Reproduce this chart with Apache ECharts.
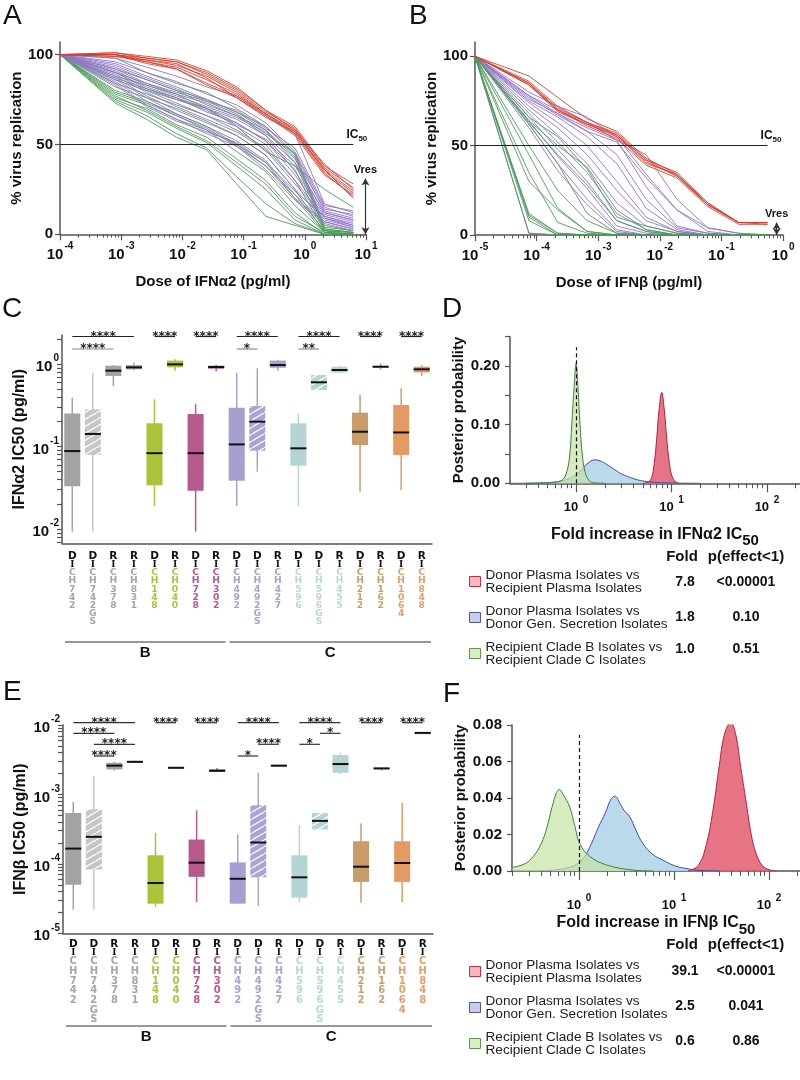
<!DOCTYPE html>
<html><head><meta charset="utf-8">
<script src="https://cdn.jsdelivr.net/npm/echarts@6/dist/echarts.min.js"></script>
<style>html,body{margin:0;padding:0;background:#fff}#c{width:800px;height:1080px}</style>
</head><body><div id="c"></div>
<script>
// ================= DATA =================
// Panel A: IFN-alpha2 dose-response (pg/ml) vs % virus replication
const dosesA = [0.0001, 0.0008, 0.0026, 0.008, 0.025, 0.077, 0.23, 0.69, 2.1, 6.2];
const redA = [
  [100, 101, 99, 97, 91, 82, 69, 60, 38, 28],
  [100, 100, 98, 96, 89, 80, 68, 59, 37, 26],
  [100, 100, 97, 94, 88, 79, 67, 58, 36, 24],
  [100, 99, 96, 93, 86, 78, 67, 57, 35, 23],
  [100, 100, 95, 92, 84, 77, 66, 56, 34, 21],
  [100, 99, 97, 95, 87, 76, 65, 57, 36, 20],
  [100, 101, 98, 96, 90, 81, 69, 58, 39, 25],
  [100, 100, 96, 92, 83, 76, 66, 55, 33, 22]
];
const purpleA = [
  [100, 98, 93, 88, 82, 77, 67, 56, 17, 12],
  [100, 96, 90, 85, 78, 72, 62, 46, 15, 10],
  [100, 95, 88, 82, 75, 68, 60, 45, 13, 9],
  [100, 93, 86, 80, 72, 66, 58, 40, 12, 8],
  [100, 92, 84, 78, 70, 64, 55, 35, 11, 7],
  [100, 90, 82, 76, 68, 62, 52, 33, 10, 6],
  [100, 89, 80, 73, 66, 60, 50, 30, 9, 5],
  [100, 88, 79, 71, 64, 57, 47, 28, 9, 4],
  [100, 87, 77, 69, 62, 55, 44, 25, 8, 4],
  [100, 86, 76, 67, 60, 52, 41, 22, 7, 3],
  [100, 85, 74, 66, 58, 50, 38, 20, 7, 3],
  [100, 84, 72, 64, 56, 49, 36, 19, 6, 2],
  [100, 91, 83, 77, 71, 65, 57, 42, 14, 11],
  [100, 94, 87, 81, 74, 69, 59, 48, 16, 13],
  [100, 83, 71, 63, 57, 51, 40, 24, 10, 5],
  [100, 90, 81, 75, 69, 61, 53, 38, 12, 8]
];
const greenA = [
  [100, 98, 90, 84, 79, 70, 60, 44, 4, 2],
  [100, 92, 86, 80, 75, 68, 58, 43, 3, 1],
  [100, 88, 83, 78, 73, 66, 55, 40, 3, 1],
  [100, 86, 80, 75, 70, 62, 52, 36, 2, 1],
  [100, 84, 78, 72, 66, 58, 48, 30, 2, 0],
  [100, 82, 76, 70, 63, 55, 44, 25, 1, 0],
  [100, 80, 74, 67, 60, 50, 40, 20, 1, 0],
  [100, 78, 72, 64, 58, 46, 35, 16, 1, 0],
  [100, 76, 70, 61, 54, 42, 30, 12, 0, 0],
  [100, 75, 68, 59, 51, 38, 25, 8, 0, 0],
  [100, 74, 66, 56, 48, 32, 17, 6, 0, 0],
  [100, 73, 64, 54, 47, 28, 10, 5, 0, 0],
  [100, 87, 81, 76, 70, 60, 46, 38, 25, 15],
  [100, 90, 84, 79, 74, 67, 56, 45, 5, 2],
  [100, 79, 73, 66, 59, 49, 38, 22, 2, 1],
  [100, 77, 69, 60, 52, 40, 28, 10, 1, 0]
];
// Panel B: IFN-beta dose-response
const dosesB = [0.00001, 0.000075, 0.00022, 0.00066, 0.002, 0.006, 0.019, 0.06, 0.19, 0.56];
const redB = [
  [100, 89, 77, 65, 58, 43, 34, 18, 7, 7],
  [100, 85, 70, 62, 56, 42, 33, 17, 7, 7],
  [100, 84, 69, 62, 55, 41, 33, 17, 7, 6],
  [100, 85, 71, 63, 56, 40, 34, 17, 7, 7],
  [100, 84, 70, 61, 54, 39, 32, 16, 6, 6],
  [100, 86, 72, 63, 57, 42, 35, 18, 7, 7]
];
const purpleB = [
  [100, 80, 72, 66, 55, 34, 14, 4, 1, 0],
  [100, 78, 70, 63, 53, 27, 5, 1, 0, 0],
  [100, 76, 68, 58, 45, 20, 4, 1, 0, 0],
  [100, 75, 66, 55, 40, 15, 3, 0, 0, 0],
  [100, 74, 63, 50, 30, 10, 2, 0, 0, 0],
  [100, 72, 60, 45, 25, 8, 2, 0, 0, 0],
  [100, 70, 56, 40, 18, 5, 1, 0, 0, 0],
  [100, 68, 52, 35, 12, 3, 0, 0, 0, 0],
  [100, 66, 48, 30, 8, 2, 0, 0, 0, 0],
  [100, 64, 44, 26, 5, 1, 0, 0, 0, 0],
  [100, 62, 40, 20, 3, 0, 0, 0, 0, 0],
  [100, 60, 36, 17, 2, 0, 0, 0, 0, 0],
  [100, 1, 0, 0, 0, 0, 0, 0, 0, 0],
  [100, 78, 68, 60, 53, 45, 20, 4, 1, 0],
  [100, 77, 67, 58, 52, 32, 14, 2, 0, 0]
];
const greenB = [
  [100, 12, 1, 0, 0, 0, 0, 0, 0, 0],
  [100, 10, 0, 0, 0, 0, 0, 0, 0, 0],
  [100, 8, 0, 0, 0, 0, 0, 0, 0, 0],
  [100, 11, 1, 0, 0, 0, 0, 0, 0, 0],
  [100, 1, 0, 0, 0, 0, 0, 0, 0, 0],
  [100, 30, 14, 2, 0, 0, 0, 0, 0, 0],
  [100, 35, 7, 1, 0, 0, 0, 0, 0, 0],
  [100, 45, 15, 2, 0, 0, 0, 0, 0, 0],
  [100, 62, 40, 12, 1, 0, 0, 0, 0, 0],
  [100, 64, 50, 38, 14, 3, 0, 0, 0, 0],
  [100, 66, 55, 37, 10, 5, 1, 0, 0, 0],
  [100, 63, 45, 28, 8, 2, 0, 0, 0, 0],
  [100, 50, 25, 8, 1, 0, 0, 0, 0, 0]
];
const ic50Level = 50;
const vresA = {dose: 9.8, top: 31};
const vresB = {dose: 0.79, top: 7};

// Panels C / E: isolates
const isolates = ['CH742','CH742GS','CH378','CH831','CH148','CH040','CH728','CH302','CH492','CH492GS','CH427','CH596','CH596GS','CH455','CH212','CH162','CH1064','CH848'];
const roles = ['D','D','R','R','D','R','D','R','D','D','R','D','D','R','D','R','D','R'];
const clades = [{name:'B', from:0, to:7}, {name:'C', from:8, to:17}];
// [min, q1, median, q3, max]
const ic50Alpha = [
  [0.0093, 0.033, 0.088, 0.252, 0.39],
  [0.0093, 0.079, 0.142, 0.282, 0.785],
  [0.54, 0.716, 0.83, 0.953, 0.97],
  [0.845, 0.862, 0.91, 0.97, 1.04],
  [0.019, 0.034, 0.083, 0.191, 0.373],
  [0.83, 0.91, 0.99, 1.1, 1.14],
  [0.0093, 0.029, 0.083, 0.248, 0.325],
  [0.823, 0.877, 0.92, 0.953, 0.97],
  [0.019, 0.0385, 0.106, 0.295, 0.785],
  [0.0495, 0.089, 0.2, 0.31, 0.887],
  [0.83, 0.90, 0.97, 1.1, 1.12],
  [0.019, 0.0585, 0.095, 0.191, 0.252],
  [0.484, 0.484, 0.6, 0.736, 0.736],
  [0.77, 0.785, 0.846, 0.927, 0.946],
  [0.0283, 0.104, 0.151, 0.257, 0.42],
  [0.85, 0.91, 0.927, 0.94, 1.02],
  [0.0297, 0.079, 0.148, 0.318, 0.507],
  [0.716, 0.79, 0.862, 0.927, 0.97]
];
const ic50Beta = [
  [2.2e-5, 5.0e-5, 1.66e-4, 5.4e-4, 7.8e-4],
  [2.2e-5, 8.3e-5, 2.45e-4, 6.1e-4, 1.84e-3],
  [2.2e-3, 2.29e-3, 2.6e-3, 2.86e-3, 2.95e-3],
  [2.9e-3, 2.92e-3, 2.95e-3, 3.02e-3, 3.05e-3],
  [2.4e-5, 2.67e-5, 5.3e-5, 1.33e-4, 2.8e-4],
  [2.35e-3, 2.38e-3, 2.42e-3, 2.48e-3, 2.5e-3],
  [2.8e-5, 6.5e-5, 1.04e-4, 2.24e-4, 5.9e-4],
  [2.1e-3, 2.13e-3, 2.19e-3, 2.3e-3, 2.4e-3],
  [2.67e-5, 2.67e-5, 6.1e-5, 1.05e-4, 2.65e-4],
  [2.5e-5, 6.4e-5, 2.03e-4, 7.0e-4, 2.05e-3],
  [2.55e-3, 2.57e-3, 2.6e-3, 2.63e-3, 2.65e-3],
  [2.8e-5, 3.26e-5, 6.4e-5, 1.33e-4, 3.6e-4],
  [3.13e-4, 3.13e-4, 4.16e-4, 5.4e-4, 5.4e-4],
  [1.96e-3, 2.05e-3, 2.74e-3, 3.7e-3, 3.98e-3],
  [2.75e-5, 5.5e-5, 9.1e-5, 2.12e-4, 3.8e-4],
  [2.2e-3, 2.33e-3, 2.37e-3, 2.42e-3, 2.45e-3],
  [2.8e-5, 5.5e-5, 1.03e-4, 2.12e-4, 7.6e-4],
  [7.6e-3, 7.65e-3, 7.7e-3, 7.75e-3, 7.8e-3]
];
// significance: [fromIdx, toIdx, label, level]
const sigAlpha = [[0,3,'****',0],[0,2,'****',1],[4,5,'****',0],[6,7,'****',0],[8,10,'****',0],[8,9,'*',1],[11,13,'****',0],[11,12,'**',1],[14,15,'****',0],[16,17,'****',0]];
const sigBeta = [[0,3,'****',0],[0,2,'****',1],[1,3,'****',2],[1,2,'****',3],[4,5,'****',0],[6,7,'****',0],[8,10,'****',0],[9,10,'****',2],[8,9,'*',3],[11,13,'****',0],[12,13,'*',1],[11,12,'*',2],[14,15,'****',0],[16,17,'****',0]];

// Panels D / F: posterior densities [fold, probability]
const compNames = ['Donor Plasma Isolates vs\nRecipient Plasma Isolates','Donor Plasma Isolates vs\nDonor Gen. Secretion Isolates','Recipient Clade B Isolates vs\nRecipient Clade C Isolates'];
const foldAlpha = ['7.8','1.8','1.0'];
const pAlpha = ['<0.00001','0.10','0.51'];
const foldBeta = ['39.1','2.5','0.6'];
const pBeta = ['<0.00001','0.041','0.86'];
const densRedD = [[5,0],[5.7,0.002],[6.2,0.01],[6.6,0.035],[7.0,0.077],[7.4,0.125],[7.9,0.155],[8.4,0.125],[8.9,0.077],[9.4,0.04],[10,0.015],[10.9,0.003],[12,0]];
const densBlueD = [[0.3,0],[0.5,0.001],[0.7,0.004],[0.9,0.01],[1.1,0.02],[1.3,0.033],[1.58,0.04],[1.8,0.038],[2.1,0.032],[2.5,0.024],[3,0.016],[4,0.008],[5,0.004],[7,0.0015],[10,0.0005],[20,0]];
const densGreenD = [[0.2,0],[0.4,0.0005],[0.6,0.002],[0.72,0.006],[0.8,0.02],[0.86,0.05],[0.9,0.1],[0.95,0.16],[1.0,0.205],[1.05,0.16],[1.1,0.1],[1.16,0.05],[1.24,0.02],[1.35,0.006],[1.5,0.001],[2,0]];
const densRedF = [[14,0],[18,0.003],[22,0.015],[26,0.035],[30,0.058],[34,0.075],[39.5,0.0813],[45,0.074],[50,0.058],[57,0.039],[65,0.02],[73,0.0097],[85,0.003],[100,0.0007],[120,0]];
const densBlueF = [[0.4,0],[0.55,0.0005],[0.8,0.002],[0.96,0.004],[1.15,0.008],[1.35,0.015],[1.6,0.024],[1.9,0.032],[2.15,0.039],[2.39,0.041],[2.7,0.037],[3.0,0.033],[3.4,0.03],[4.0,0.022],[4.7,0.015],[6,0.009],[7.6,0.006],[10,0.003],[13,0.0015],[20,0.0002],[30,0]];
const densGreenF = [[0.2,0.002],[0.27,0.004],[0.33,0.008],[0.4,0.015],[0.46,0.024],[0.52,0.035],[0.58,0.043],[0.62,0.0447],[0.68,0.042],[0.8,0.035],[0.9,0.025],[1.02,0.015],[1.3,0.008],[1.95,0.0033],[3.7,0.0005],[6,0]];
const nullFold = 1;
const dashTopD = 0.232, dashTopF = 0.0745;

// tick label values
const decA = [1e-4,1e-3,1e-2,1e-1,1,10];
const decB = [1e-5,1e-4,1e-3,1e-2,1e-1,1];
const decC = [0.01,0.1,1];
const decE = [1e-5,1e-4,1e-3,1e-2];
const decDF = [1,10,100];

// ================= STYLE =================
const FONT = 'Liberation Sans';
const AX = '#555';
const groupColors = ['#a6a6a6','#aac43c','#b9588e','#a6a3d3','#b8d8d7','#c99e6c','#e79e67'];
const catGroup = [0,0,0,0,1,1,2,2,3,3,3,4,4,4,5,5,6,6];
const boxFill = ['#a3a3a3','#c6c6c6','#a3a3a3','#a3a3a3','#aac43a','#aac43a','#b65a8e','#b65a8e','#a4a1d0','#a8a5d6','#a4a1d0','#b4d5d4','#b4d5d4','#b4d5d4','#c79c69','#c79c69','#e39b63','#e39b63'];
const hatched = [0,1,0,0,0,0,0,0,0,1,0,0,1,0,0,0,0,0];

function minorTicks(min, max) {
  const out = [];
  for (let e = Math.floor(Math.log10(min)); e <= Math.ceil(Math.log10(max)); e++) {
    for (let m = 1; m <= 9; m++) {
      const v = m * Math.pow(10, e);
      if (v >= min * 0.9999 && v <= max * 1.0001) out.push(v);
    }
  }
  return out;
}
function supRich(size, ssize) {
  return {
    b: {fontSize: size, fontWeight: 'bold', fontFamily: FONT, color: '#111', lineHeight: size + 6, verticalAlign: 'bottom'},
    s: {fontSize: ssize, fontWeight: 'bold', fontFamily: FONT, color: '#111', lineHeight: ssize + 2, verticalAlign: 'top', padding: [0, 0, 0, 1]}
  };
}
const pow10 = v => '{b|10}{s|' + Math.round(Math.log10(v)) + '}';
const pow10sp = v => '{b|10 }{s|' + Math.round(Math.log10(v)) + '}';

function hatchPattern(bg) {
  const c = document.createElement('canvas');
  c.width = 12; c.height = 7;
  const g = c.getContext('2d');
  g.fillStyle = bg; g.fillRect(0, 0, 12, 7);
  g.strokeStyle = 'rgba(255,255,255,0.95)'; g.lineWidth = 1.3;
  for (const dx of [-12, 0, 12]) { g.beginPath(); g.moveTo(dx, 7); g.lineTo(dx + 12, 0); g.stroke(); }
  return {image: c, repeat: 'repeat'};
}
const fills = boxFill.map((c, i) => hatched[i] ? hatchPattern(c) : c);

function boxRender(params, api) {
  const i = api.value(0);
  const pMin = api.coord([i, api.value(1)]);
  const pQ1 = api.coord([i, api.value(2)]);
  const pMed = api.coord([i, api.value(3)]);
  const pQ3 = api.coord([i, api.value(4)]);
  const pMax = api.coord([i, api.value(5)]);
  const w = api.size([1, 0])[0] * 0.78;
  const x = pMed[0];
  const col = boxFill[i];
  return {type: 'group', children: [
    {type: 'line', shape: {x1: x, y1: pMax[1], x2: x, y2: pMin[1]}, style: {stroke: col, lineWidth: 1.5}},
    {type: 'rect', shape: {x: x - w / 2, y: pQ3[1], width: w, height: Math.max(pQ1[1] - pQ3[1], 1.5)}, style: {fill: fills[i]}},
    {type: 'line', shape: {x1: x - w / 2, y1: pMed[1], x2: x + w / 2, y2: pMed[1]}, style: {stroke: '#111', lineWidth: 2}}
  ]};
}

function catRich(step, size) {
  const r = {
    dr: {fontSize: 10.5, fontWeight: 'bold', fontFamily: 'DejaVu Sans', color: '#111', lineHeight: 9},
    bar: {fontSize: 9, fontWeight: 'bold', fontFamily: 'DejaVu Serif', color: '#111', lineHeight: 8.5}
  };
  groupColors.forEach((c, k) => { r['g' + k] = {fontSize: size, fontWeight: 'bold', fontFamily: 'DejaVu Sans', color: c, lineHeight: step}; });
  return r;
}
function catLabel(val, idx) {
  let s = '{dr|' + roles[idx] + '}\n{bar|I}';
  for (const ch of val) s += '\n{g' + catGroup[idx] + '|' + ch + '}';
  return s;
}

const axisNameStyle = {fontSize: 15, fontWeight: 'bold', fontFamily: FONT, color: '#111'};
const tickLabelStyle = {fontSize: 15, fontWeight: 'bold', fontFamily: FONT, color: '#111'};

function logX(grid, min, max, dec, name, gap, fmt, rich, tickLen, margin) {
  return [
    {type: 'log', gridIndex: grid, min, max, position: 'bottom', name, nameLocation: 'middle', nameGap: gap,
     nameTextStyle: axisNameStyle,
     axisLine: {onZero: false, lineStyle: {color: AX, width: 1.5}},
     axisTick: {customValues: dec, length: tickLen, lineStyle: {color: AX, width: 1.2}},
     axisLabel: {customValues: dec, formatter: fmt, rich, margin},
     splitLine: {show: false}, minorTick: {show: false}},
    {type: 'log', gridIndex: grid, min, max, position: 'bottom',
     axisLine: {show: false}, axisLabel: {show: false}, splitLine: {show: false},
     axisTick: {customValues: minorTicks(min, max).filter(v => !dec.some(d => Math.abs(d - v) / d < 1e-6)), length: tickLen * 0.55, lineStyle: {color: AX, width: 1}}}
  ];
}

const grids = [
  {left: 60, top: 42, width: 306, height: 192.3},
  {left: 475, top: 42, width: 308, height: 193},
  {left: 62, top: 335, width: 370, height: 208.3},
  {left: 510, top: 336.7, width: 290, height: 146.6},
  {left: 63, top: 725, width: 370, height: 208.3},
  {left: 512, top: 725, width: 288, height: 146}
].map(g => Object.assign({outerBoundsMode: 'none', containLabel: false}, g));

const yMinC = 0.00671, yMaxC = 2.246, yMinE = 1e-5, yMaxE = 1e-2;
const dMin = 0.203, dMax = 222, fMin = 0.197, fMax = 212;

const xAxes = [].concat(
  logX(0, 1e-4, 10, decA, 'Dose of IFNα2 (pg/ml)', 40, pow10, supRich(15, 10), 6, 7),
  logX(1, 1e-5, 1, decB, 'Dose of IFNβ (pg/ml)', 40, pow10, supRich(15, 10), 6, 7),
  [{type: 'category', gridIndex: 2, data: isolates, axisTick: {show: false},
    axisLine: {lineStyle: {color: AX, width: 1.5}},
    axisLabel: {interval: 0, formatter: catLabel, rich: catRich(8.2, 9.2), margin: 8}}],
  logX(3, dMin, dMax, decDF, '{a|Fold increase in IFNα2 IC}{s|50}', 43, pow10sp, supRich(13, 10), 9, 12),
  [{type: 'category', gridIndex: 4, data: isolates, axisTick: {show: false},
    axisLine: {lineStyle: {color: AX, width: 1.5}},
    axisLabel: {interval: 0, formatter: catLabel, rich: catRich(9.7, 10), margin: 6}}],
  logX(5, fMin, fMax, decDF, '{a|Fold increase in IFNβ IC}{s|50}', 44, pow10sp, supRich(13, 10), 9, 22)
);
const nameRich = {
  a: {fontSize: 16, fontWeight: 'bold', fontFamily: FONT, color: '#111', lineHeight: 22, verticalAlign: 'top'},
  s: {fontSize: 15, fontWeight: 'bold', fontFamily: FONT, color: '#111', lineHeight: 18, verticalAlign: 'bottom'}
};
xAxes[5].nameTextStyle = Object.assign({}, axisNameStyle, {rich: nameRich});
xAxes[8].nameTextStyle = Object.assign({}, axisNameStyle, {rich: nameRich});

function valY(grid, max, labels, ticks, name, gap, fmt, margin) {
  return {type: 'value', gridIndex: grid, min: 0, max, name, nameLocation: 'middle', nameGap: gap,
    nameTextStyle: axisNameStyle,
    axisLine: {show: true, onZero: false, lineStyle: {color: AX, width: 1.5}},
    axisTick: {show: true, customValues: ticks, length: 5, lineStyle: {color: AX, width: 1.2}},
    axisLabel: Object.assign({customValues: labels, formatter: fmt, margin}, tickLabelStyle),
    splitLine: {show: false}};
}
function logY(grid, min, max, dec, name, gap) {
  return {type: 'log', gridIndex: grid, min, max, name, nameLocation: 'middle', nameGap: gap,
    nameTextStyle: Object.assign({}, axisNameStyle, {fontSize: 16}),
    axisLine: {show: true, lineStyle: {color: AX, width: 1.5}},
    axisTick: {show: true, customValues: minorTicks(min, max), length: 5, lineStyle: {color: AX, width: 1.2}},
    axisLabel: {customValues: dec, formatter: pow10, rich: supRich(15, 10), margin: 3},
    splitLine: {show: false}, minorTick: {show: false}};
}
const yAxes = [
  valY(0, 107, [0, 50, 100], [0, 50, 100], '% virus replication', 36, v => String(v), 7),
  valY(1, 108, [0, 50, 100], [0, 50, 100], '% virus replication', 36, v => String(v), 7),
  logY(2, yMinC, yMaxC, decC, 'IFNα2 IC50 (pg/ml)', 34),
  valY(3, 0.25, [0, 0.1, 0.2], [0, 0.05, 0.1, 0.15, 0.2, 0.25], 'Posterior probability', 44, v => v.toFixed(2), 10),
  logY(4, yMinE, yMaxE, decE, 'IFNβ IC50 (pg/ml)', 34),
  valY(5, 0.08, [0, 0.02, 0.04, 0.06, 0.08], [0, 0.02, 0.04, 0.06, 0.08], 'Posterior probability', 44, v => v.toFixed(2), 10)
];

const COL_RED = '#d6402f', COL_PUR = '#9274c8', COL_GRN = '#4e9c5a';
function curveSeries(curves, doses, color, xi, yi, z) {
  return curves.map(v => ({type: 'line', xAxisIndex: xi, yAxisIndex: yi, z, silent: true, symbol: 'none',
    data: doses.map((d, k) => [d, v[k]]), lineStyle: {color, width: 0.9}}));
}
const icRich = {a: {fontSize: 12, fontWeight: 'bold', fontFamily: FONT, color: '#111', lineHeight: 14, verticalAlign: 'top'},
                b: {fontSize: 8, fontWeight: 'bold', fontFamily: FONT, color: '#111', lineHeight: 8, verticalAlign: 'bottom'}};
function icLine(doses) {
  return {silent: true, symbol: 'none', animation: false,
    lineStyle: {color: '#222', width: 1.2, type: 'solid'},
    label: {show: true, position: 'insideEndTop', formatter: '{a|IC}{b|50}', rich: icRich, distance: [-14, 2]},
    data: [[{coord: [doses[0], ic50Level]}, {coord: [doses[doses.length - 1], ic50Level]}]]};
}
function vresLine(v) {
  return {silent: true, symbol: ['arrow', 'arrow'], symbolSize: [6, 7], animation: false,
    lineStyle: {color: '#333', width: 1.2, type: 'solid'},
    label: {show: true, position: 'end', formatter: 'Vres', fontSize: 11, fontWeight: 'bold', fontFamily: FONT, color: '#111', distance: 3},
    data: [[{coord: [v.dose, 0]}, {coord: [v.dose, v.top]}]]};
}

const seriesA = [].concat(curveSeries(greenA, dosesA, COL_GRN, 0, 0, 2), curveSeries(purpleA, dosesA, COL_PUR, 0, 0, 3), curveSeries(redA, dosesA, COL_RED, 0, 0, 4));
seriesA[seriesA.length - 1].markLine = icLine(dosesA);
seriesA[seriesA.length - 2].markLine = vresLine(vresA);
const seriesB = [].concat(curveSeries(purpleB, dosesB, COL_PUR, 2, 1, 2), curveSeries(greenB, dosesB, COL_GRN, 2, 1, 3), curveSeries(redB, dosesB, COL_RED, 2, 1, 4));
seriesB[seriesB.length - 1].markLine = icLine(dosesB);
seriesB[seriesB.length - 2].markLine = vresLine(vresB);

const boxSeries = (xi, yi, stats) => ({type: 'custom', xAxisIndex: xi, yAxisIndex: yi, silent: true, clip: false,
  renderItem: boxRender, encode: {x: 0, y: [1, 2, 3, 4, 5]},
  data: stats.map((s, i) => [i].concat(s))});

const densStyle = [
  {name: compNames[0], area: 'rgba(226,92,112,0.85)', line: '#b3213b'},
  {name: compNames[1], area: 'rgba(178,214,234,0.9)', line: '#3d4f9e'},
  {name: compNames[2], area: 'rgba(196,226,164,0.7)', line: '#3f7f3f'}
];
function densSeries(xi, yi, red, blue, green, dashTop) {
  const mk = (k, data, z) => ({type: 'line', name: densStyle[k].name, xAxisIndex: xi, yAxisIndex: yi, z, silent: true,
    smooth: 0.4, symbol: 'none', data, lineStyle: {color: densStyle[k].line, width: 1}, areaStyle: {color: densStyle[k].area, opacity: 1},
    itemStyle: {color: densStyle[k].line}});
  const g = mk(2, green, 4);
  g.markLine = {silent: true, symbol: 'none', animation: false, label: {show: false},
    lineStyle: {color: '#111', width: 1.2, type: [4, 3]},
    data: [[{coord: [nullFold, 0]}, {coord: [nullFold, dashTop]}]]};
  return [mk(1, blue, 3), g, mk(0, red, 3)];
}

const legendItems = [
  {fill: '#f5b9c1', border: '#c8303f'},
  {fill: '#c9cdea', border: '#4a5aa8'},
  {fill: '#d9ecc6', border: '#5a9a4a'}
];
function legend(top) {
  return {orient: 'vertical', left: 469, top, padding: 0, itemWidth: 11, itemHeight: 10, itemGap: 9, icon: 'rect',
    selectedMode: false,
    textStyle: {fontSize: 13.6, fontFamily: FONT, color: '#222', lineHeight: 13},
    data: compNames.map((n, k) => ({name: n, itemStyle: {color: legendItems[k].fill, borderColor: legendItems[k].border, borderWidth: 1}}))};
}

const option = {
  animation: false,
  backgroundColor: '#fff',
  textStyle: {fontFamily: FONT},
  grid: grids,
  xAxis: xAxes,
  yAxis: yAxes,
  legend: [legend(568), legend(958)],
  series: [].concat(seriesA, seriesB,
    [boxSeries(4, 2, ic50Alpha)],
    densSeries(5, 3, densRedD, densBlueD, densGreenD, dashTopD),
    [boxSeries(7, 4, ic50Beta)],
    densSeries(8, 5, densRedF, densBlueF, densGreenF, dashTopF))
};

const chart = echarts.init(document.getElementById('c'), null, {renderer: 'canvas'});
chart.setOption(option);

// ---------- annotations positioned through the axes ----------
const gfx = [];
function txt(text, x, y, font, align, valign, fill) {
  return {type: 'text', silent: true, style: {text, x, y, font, fill: fill || '#111', align, verticalAlign: valign, textAlign: align, textVerticalAlign: valign}};
}
function addSig(list, xi, yi, yTop, rows, rowColors) {
  const top = chart.convertToPixel({yAxisIndex: yi}, yTop);
  list.forEach(([a, b, label, lvl]) => {
    const x1 = chart.convertToPixel({xAxisIndex: xi}, a);
    const x2 = chart.convertToPixel({xAxisIndex: xi}, b);
    const y = top + rows[lvl];
    gfx.push({type: 'line', silent: true, shape: {x1, y1: y, x2, y2: y}, style: {stroke: rowColors[lvl], lineWidth: 1.2}});
    gfx.push(txt(label, (x1 + x2) / 2, y + 6, 'bold 12px DejaVu Sans', 'center', 'bottom', '#222'));
  });
}
addSig(sigAlpha, 4, 2, yMaxC, [1.5, 14], ['#222', '#8a8a8a']);
addSig(sigBeta, 7, 4, yMaxE, [-2.3, 8.3, 19.3, 31], ['#333', '#333', '#333', '#333']);

function addClades(xi, yi, yMin, lineOff) {
  const base = chart.convertToPixel({yAxisIndex: yi}, yMin);
  const c0 = chart.convertToPixel({xAxisIndex: xi}, 0), c1 = chart.convertToPixel({xAxisIndex: xi}, 1);
  const bw = c1 - c0;
  clades.forEach(cl => {
    const xa = chart.convertToPixel({xAxisIndex: xi}, cl.from) - bw / 2 + 3;
    const xb = chart.convertToPixel({xAxisIndex: xi}, cl.to) + bw / 2 - 1;
    const y = base + lineOff;
    gfx.push({type: 'line', silent: true, shape: {x1: xa, y1: y, x2: xb, y2: y}, style: {stroke: '#333', lineWidth: 1.2}});
    gfx.push(txt(cl.name, (xa + xb) / 2, y + 11, 'bold 15px ' + FONT, 'center', 'middle'));
  });
}
addClades(4, 2, yMinC, 98.7);
addClades(7, 4, yMinE, 92.7);

function addTable(folds, ps, headerY, rowYs) {
  gfx.push(txt('Fold', 682, headerY, 'bold 15px ' + FONT, 'center', 'middle'));
  gfx.push(txt('p(effect<1)', 746, headerY, 'bold 15px ' + FONT, 'center', 'middle'));
  rowYs.forEach((y, k) => {
    gfx.push(txt(folds[k], 685, y, 'bold 14px ' + FONT, 'center', 'middle'));
    gfx.push(txt(ps[k], 746, y, 'bold 14px ' + FONT, 'center', 'middle'));
  });
}
addTable(foldAlpha, pAlpha, 556.7, [581.7, 616.7, 649]);
addTable(foldBeta, pBeta, 945, [970.7, 1005.7, 1040.7]);

[['A', 3, 2], ['B', 409, 2], ['C', 2, 295], ['D', 442, 295], ['E', 3, 678], ['F', 443, 680]].forEach(([t, x, y]) => {
  gfx.push(txt(t, x, y, '28px ' + FONT, 'left', 'top', '#111'));
});

chart.setOption({graphic: {elements: gfx}});
</script>
</body></html>
